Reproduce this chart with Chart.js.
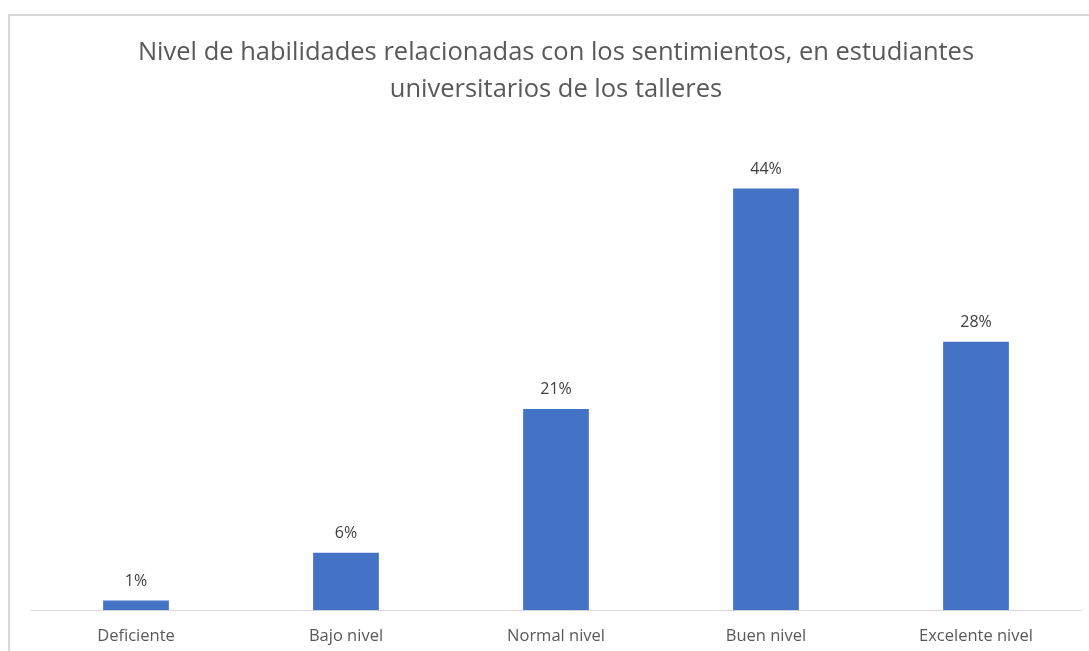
<!DOCTYPE html>
<html>
<head>
<meta charset="utf-8">
<title>Nivel de habilidades</title>
<script src="https://cdn.jsdelivr.net/npm/chart.js@4.4.0/dist/chart.umd.min.js"></script>
<style>
  body { margin: 0; background: #fff; overflow: hidden; }
  #frame {
    position: absolute; left: 8px; top: 14px;
    width: 1081px; height: 654px;
    border-left: 2px solid #d9d9d9; border-top: 2px solid #d9d9d9;
  }
</style>
</head>
<body>
<div id="frame"><canvas id="myChart" width="1079" height="652"></canvas></div>
<script>
// categories and percentages
var niveles = ["Deficiente", "Bajo nivel", "Normal nivel", "Buen nivel", "Excelente nivel"];
var porcentajes = [1, 6, 21, 44, 28];
var tituloLineas = ["Nivel de habilidades relacionadas con los sentimientos, en estudiantes", "universitarios de los talleres"];

// draws the % above each bar
var valueLabels = {
  id: "valueLabels",
  afterDatasetsDraw: function(chart) {
    var ctx = chart.ctx;
    var meta = chart.getDatasetMeta(0);
    ctx.save();
    ctx.font = "16px 'Open Sans'";
    ctx.fillStyle = "#404040";
    ctx.textAlign = "center";
    ctx.textBaseline = "bottom";
    meta.data.forEach(function(bar, i) {
      ctx.fillText(porcentajes[i] + "%", bar.x, bar.y - 11);
    });
    ctx.restore();
  }
};

var ctx = document.getElementById("myChart").getContext("2d");
var chart = new Chart(ctx, {
  type: "bar",
  data: {
    labels: niveles,
    datasets: [{
      data: porcentajes,
      backgroundColor: "#4472C4",
      categoryPercentage: 1,
      barPercentage: 0.313
    }]
  },
  options: {
    responsive: false,
    animation: false,
    layout: { padding: { left: 21, right: 8, top: 0, bottom: 6 } },
    plugins: {
      legend: { display: false },
      tooltip: { enabled: false },
      title: {
        display: true,
        text: tituloLineas,
        color: "#595959",
        font: { family: "'Open Sans'", size: 25.5, weight: "normal", lineHeight: 1.45 },
        padding: { top: 18, bottom: 23 }
      }
    },
    scales: {
      x: {
        grid: { display: false, drawTicks: false },
        border: { display: true, color: "#d9d9d9", width: 1 },
        ticks: { color: "#595959", font: { family: "'Open Sans'", size: 16.5 }, padding: 16 }
      },
      y: {
        display: false,
        min: 0,
        max: 50
      }
    }
  },
  plugins: [valueLabels]
});
</script>
</body>
</html>
